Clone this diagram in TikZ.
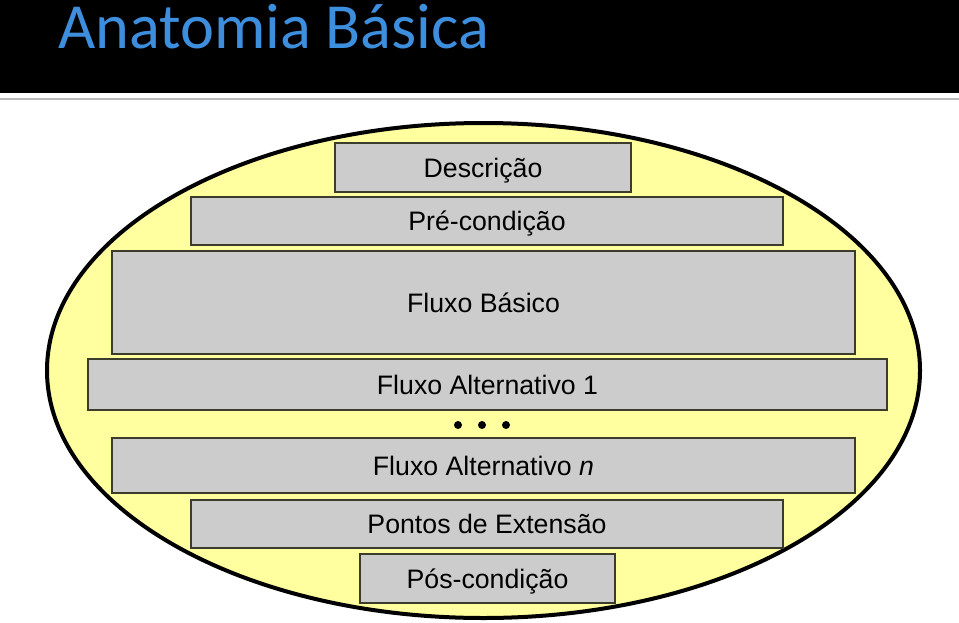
\documentclass[tikz,border=0pt]{standalone}
\usepackage{fontspec}
\setmainfont{Liberation Sans}
\newfontfamily\titlefont{Carlito}
\usepackage{tikz}
\usetikzlibrary{positioning}

\definecolor{titleblue}{RGB}{62,142,222}
\definecolor{shellyellow}{RGB}{255,255,160}
\definecolor{partgray}{RGB}{204,204,204}
\definecolor{partline}{RGB}{60,60,45}

\begin{document}
\begin{tikzpicture}[x=0.02cm, y=-0.02cm,
  part/.style={draw=partline, line width=0.025cm, fill=partgray, inner sep=0pt,
    font=\fontsize{15.2}{17}\selectfont, text height=14pt, text depth=3pt},
  dot/.style={circle, fill=black, inner sep=0pt, minimum size=0.16cm}]
\useasboundingbox (0,0) rectangle (959,622);

% Header
\fill[black] (0,0) rectangle (959,93);
\draw[gray!55, line width=0.05cm] (0,99) -- (959,99);
\node[anchor=base west, text=titleblue, inner sep=0pt,
  font=\titlefont\fontsize{36.6}{40}\selectfont] (title) at (58,48) {Anatomia Básica};

% Use case shell
\draw[fill=shellyellow, line width=0.08cm] (483.5,370.5) ellipse [x radius=436.5, y radius=247.5];

% Parts
\node[part, minimum width=5.92cm, minimum height=0.98cm] (desc) at (483,167.5) {Descrição};
\node[part, minimum width=11.84cm, minimum height=0.96cm] (pre) at (487,221) {Pré-condição};
\node[part, minimum width=14.86cm, minimum height=2.06cm] (basic) at (483.5,302.5) {Fluxo Básico};
\node[part, minimum width=15.98cm, minimum height=1.02cm] (alt1) at (487.5,384.5) {Fluxo Alternativo 1};
\node[part, minimum width=14.86cm, minimum height=1.1cm] (altn) at (483.5,465.5) {Fluxo Alternativo \textit{n}};
\node[part, minimum width=11.84cm, minimum height=0.96cm] (ext) at (487,524) {Pontos de Extensão};
\node[part, minimum width=5.1cm, minimum height=0.98cm] (post) at (487.5,578.5) {Pós-condição};

% Ellipsis between the alternative flows
\foreach \x/\n in {458/a,482/b,506/c} {
  \node[dot] (dot\n) at (\x,425) {};
}
\end{tikzpicture}
\end{document}
